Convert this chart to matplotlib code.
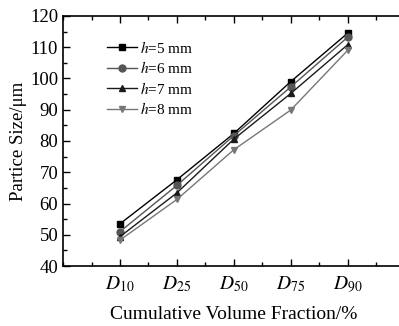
import matplotlib
matplotlib.use('Agg')
import matplotlib.pyplot as plt
from matplotlib.ticker import MultipleLocator

plt.rcParams['font.family'] = ['Liberation Serif', 'DejaVu Serif']
plt.rcParams['mathtext.fontset'] = 'stix'

categories = [r'$D_{10}$', r'$D_{25}$', r'$D_{50}$', r'$D_{75}$', r'$D_{90}$']
h5 = [53.5, 67.6, 82.4, 99.0, 114.5]
h6 = [51.0, 65.8, 81.7, 97.3, 113.2]
h7 = [49.4, 63.4, 80.6, 95.2, 110.8]
h8 = [48.3, 61.3, 77.2, 89.9, 109.0]
labels = ['$h$=5 mm', '$h$=6 mm', '$h$=7 mm', '$h$=8 mm']

fig = plt.figure(figsize=(3.99, 3.26), dpi=100)
ax = fig.add_axes([0.158, 0.184, 0.856, 0.767])

x = list(range(1, len(categories) + 1))
styles = [('#000000', 's'), ('#555555', 'o'), ('#1a1a1a', '^'), ('#777777', 'v')]
for ys, lab, (c, m) in zip([h5, h6, h7, h8], labels, styles):
    ax.plot(x, ys, color=c, marker=m, markersize=5, linewidth=1.0, label=lab)

ax.set_xlim(0, 6)
ax.set_ylim(40, 120)
ax.set_xticks(x)
ax.set_xticklabels(categories)
ax.xaxis.set_minor_locator(MultipleLocator(0.5))
ax.yaxis.set_major_locator(MultipleLocator(10))
ax.yaxis.set_minor_locator(MultipleLocator(5))
ax.tick_params(which='both', direction='in', top=True, right=False, labelsize=13.5, width=1)
ax.tick_params(which='major', length=5)
ax.tick_params(which='minor', length=3)
ax.tick_params(axis='x', which='major', pad=6, labelsize=14)
for s in ax.spines.values():
    s.set_linewidth(1.2)

ax.set_xlabel('Cumulative Volume Fraction/%', fontsize=14, labelpad=8)
ax.set_ylabel('Partice Size/μm', fontsize=13.5, labelpad=2)

leg = ax.legend(loc='upper left', bbox_to_anchor=(0.11, 0.93), frameon=False,
                fontsize=11, handlelength=2.0, handletextpad=0.2, labelspacing=0.3,
                borderaxespad=0)

fig.savefig('out.png', dpi=100)
